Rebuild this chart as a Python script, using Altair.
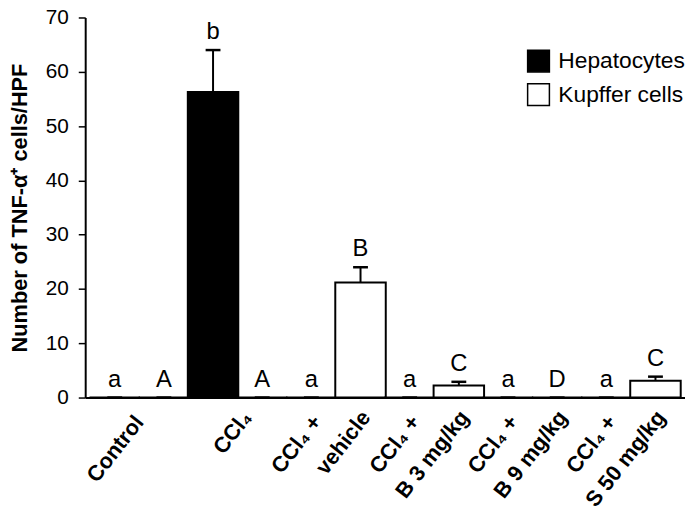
import math
import altair as alt
import pandas as pd

# ---- data ----
groups = ["Control", "CCl4", "CCl4 + vehicle", "CCl4 + B 3 mg/kg",
          "CCl4 + B 9 mg/kg", "CCl4 + S 50 mg/kg"]
hep_mean = [0, 56.3, 0, 0, 0, 0]
hep_err = [0, 7.7, 0, 0, 0, 0]
kup_mean = [0, 0, 21.2, 2.2, 0, 3.1]
kup_err = [0, 0, 2.8, 0.7, 0, 0.75]
hep_letters = ["a", "b", "a", "a", "a", "a"]
kup_letters = ["A", "A", "B", "C", "D", "C"]
label_line1 = ["Control", "CCl₄", "CCl₄ +", "CCl₄ +", "CCl₄ +", "CCl₄ +"]
label_line2 = ["", "", "vehicle", "B 3 mg/kg", "B 9 mg/kg", "S 50 mg/kg"]
cell_types = ["Hepatocytes", "Kupffer cells"]
y_ticks = [0, 10, 20, 30, 40, 50, 60, 70]

rows = []
for g in range(len(groups)):
    for c, (m, e, l) in enumerate([(hep_mean, hep_err, hep_letters),
                                   (kup_mean, kup_err, kup_letters)]):
        rows.append({"group": groups[g], "cell": cell_types[c],
                     "pos": 2 * g + c, "mean": m[g], "top": m[g] + e[g],
                     "letter": l[g]})
df = pd.DataFrame(rows)

labels = pd.DataFrame({"gi": list(range(len(groups))), "group": groups,
                       "line1": label_line1, "line2": label_line2})

FONT = "Liberation Sans"
ANGLE = 308

xscale = alt.Scale(domain=[-0.5, 11.5], nice=False, zero=False)
yscale = alt.Scale(domain=[0, 70], nice=False, zero=True)
xaxis = alt.Axis(title=None, labels=False, ticks=False, grid=False,
                 domainColor="black", domainWidth=2)
yaxis = alt.Axis(title="Number of TNF-α⁺ cells/HPF", values=y_ticks,
                 tickSize=7, tickColor="black", tickWidth=1.5,
                 labelFontSize=21, labelFont=FONT, labelColor="black",
                 labelPadding=10, titleFontSize=22, titleFont=FONT,
                 titleFontWeight="bold", titleColor="black", titlePadding=14,
                 domainColor="black", domainWidth=2, grid=False)


def X(field):
    return alt.X(field, type="quantitative", scale=xscale, axis=xaxis)


def Y(field):
    return alt.Y(field, type="quantitative", scale=yscale, axis=yaxis)


base = alt.Chart(df)

bars = base.mark_bar(size=51, stroke="black", strokeWidth=2).encode(
    x=X("pos"),
    y=Y("mean"),
    fill=alt.Fill("cell:N",
                  scale=alt.Scale(domain=cell_types, range=["black", "white"]),
                  legend=alt.Legend(orient="none", legendX=446, legendY=32,
                                    title=None, symbolType="square",
                                    symbolSize=484, symbolStrokeColor="black",
                                    symbolStrokeWidth=1.5, labelFontSize=23,
                                    labelFont=FONT, labelColor="black",
                                    rowPadding=6, labelOffset=8, padding=0)),
)

rules = base.mark_rule(color="black", strokeWidth=2).encode(
    x=X("pos"), y=Y("mean"), y2="top")

caps = base.mark_point(shape="M-1,0L1,0", size=225, filled=False,
                       stroke="black", strokeWidth=2.5, opacity=1).encode(
    x=X("pos"), y=Y("top"))

letters = base.mark_text(fontSize=24, font=FONT, color="black",
                         baseline="alphabetic", align="center", dy=-11).encode(
    x=X("pos"), y=Y("top"), text="letter:N")


def label_layer(field, filt, sx, sy, ang):
    # convert a screen offset (sx, sy) into the rotated text frame
    t = math.radians(ang)
    dx = sx * math.cos(t) + sy * math.sin(t)
    dy = -sx * math.sin(t) + sy * math.cos(t)
    return alt.Chart(labels).transform_filter(filt).transform_calculate(
        xc="datum.gi * 2 + 0.5", yz="0"
    ).mark_text(angle=ang, align="right", baseline="top", fontSize=22,
                fontWeight="bold", font=FONT, color="black",
                dx=round(dx, 1), dy=round(dy, 1)).encode(
        x=X("xc"), y=Y("yz"), text=f"{field}:N")


lab_control = label_layer("line1", "datum.gi == 0", -8, 15, ANGLE)
lab_ccl4 = label_layer("line1", "datum.gi == 1", 2, 10, ANGLE)
lab_l1 = label_layer("line1", "datum.gi >= 2", -27, 14.6, ANGLE)
lab_l2 = label_layer("line2", "datum.gi >= 2", 22.5, 10, ANGLE)

chart = alt.layer(bars, rules, caps, letters, lab_control, lab_ccl4,
                  lab_l1, lab_l2).properties(
    width=606, height=384,
    autosize=alt.AutoSizeParams(type="none"),
    padding={"left": 78, "top": 7, "right": 0, "bottom": 109},
    background="white",
).configure_view(stroke=None)

chart.save("out.html", embed_options={"renderer": "svg", "actions": False})
